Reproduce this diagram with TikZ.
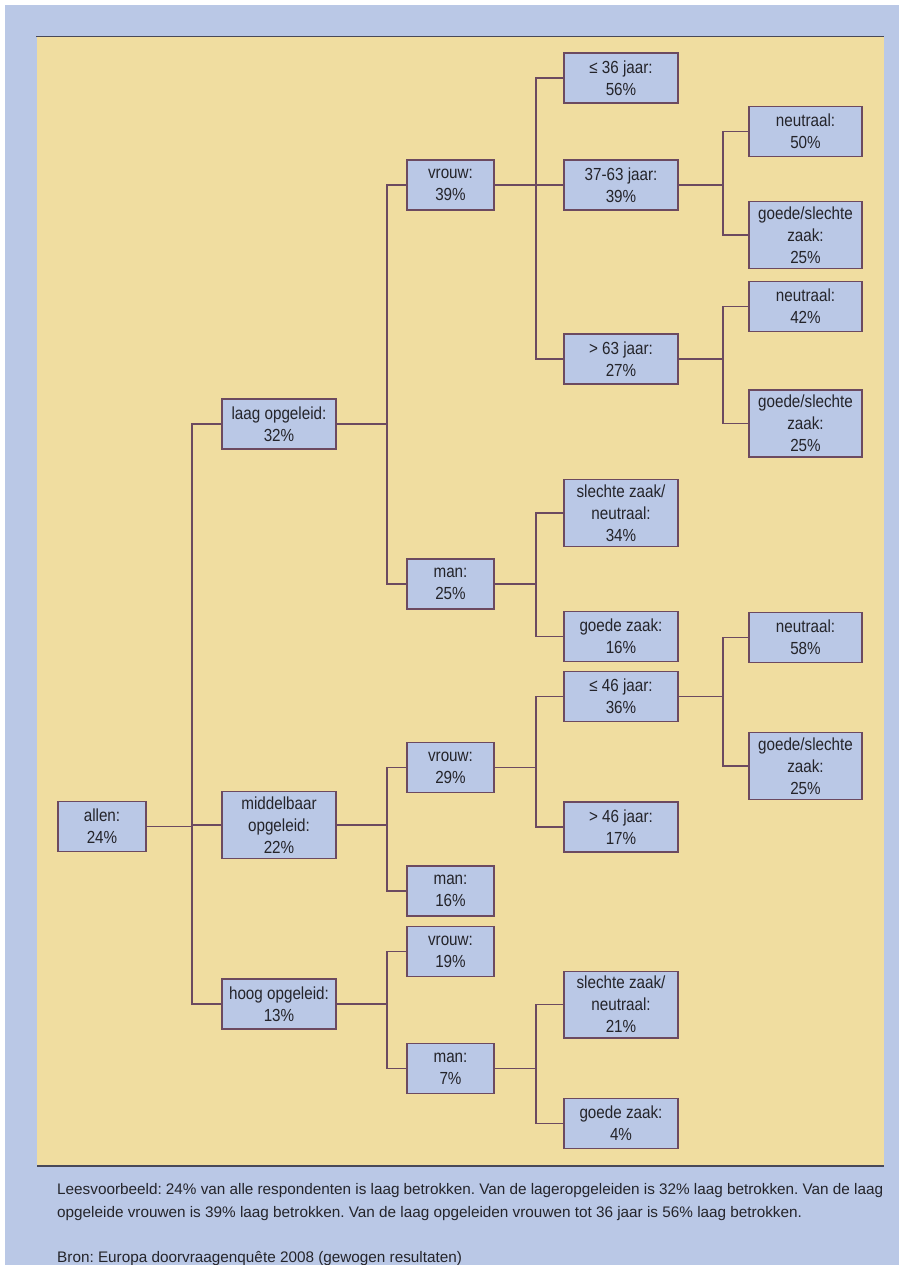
\documentclass[tikz,border=0pt]{standalone}
\usepackage{fontspec}
\setmainfont{Liberation Sans}
\newfontfamily\boxfont{Liberation Sans}[FakeStretch=0.87]
\frenchspacing

\definecolor{frameblue}{RGB}{186,200,230}
\definecolor{panelyellow}{RGB}{240,221,160}
\definecolor{boxline}{RGB}{108,74,96}
\definecolor{textgray}{RGB}{36,36,42}
\definecolor{ruledark}{RGB}{72,72,88}

\begin{document}
\begin{tikzpicture}[x=1pt,y=-1pt,
    box/.style={draw=boxline, fill=frameblue, line width=1.2pt, align=center,
      inner xsep=2pt, inner ysep=5pt, minimum height=50pt, text=textgray,
      font=\boxfont\fontsize{17.5}{22}\selectfont},
    narrowbox/.style={box, minimum width=87pt},
    widebox/.style={box, minimum width=114pt},
    conn/.style={draw=boxline, line width=1.2pt}]

    \pgfmathsetmacro{\colA}{102}
    \pgfmathsetmacro{\colB}{279}
    \pgfmathsetmacro{\colC}{450.5}
    \pgfmathsetmacro{\colD}{621}
    \pgfmathsetmacro{\colE}{805.5}

    \useasboundingbox (0,0) rectangle (899,1265);
    \fill[frameblue] (5,5) rectangle (899,1265);
    \fill[panelyellow] (37,37) rectangle (884,1166);
    \draw[ruledark, line width=1.3pt] (36,36.5) -- (884,36.5);
    \draw[ruledark, line width=1.3pt] (37,1166) -- (884,1166);

    \coordinate (tA) at (192,0);
    \coordinate (tB) at (387,0);
    \coordinate (tC) at (536,0);
    \coordinate (tD) at (723,0);

    \node[narrowbox, minimum width=88pt] (allen) at (\colA,826.5) {allen:\\24\%};

    \node[widebox] (laag) at (\colB,424) {laag opgeleid:\\32\%};
    \node[widebox] (midd) at (\colB,825) {middelbaar\\opgeleid:\\22\%};
    \node[widebox] (hoog) at (\colB,1004) {hoog opgeleid:\\13\%};

    \node[narrowbox] (vrouwL) at (\colC,185) {vrouw:\\39\%};
    \node[narrowbox] (manL) at (\colC,584) {man:\\25\%};
    \node[narrowbox] (vrouwM) at (\colC,767.5) {vrouw:\\29\%};
    \node[narrowbox] (manM) at (\colC,891) {man:\\16\%};
    \node[narrowbox] (vrouwH) at (\colC,951.5) {vrouw:\\19\%};
    \node[narrowbox] (manH) at (\colC,1068.5) {man:\\7\%};

    \node[widebox] (le36) at (\colD,78) {≤ 36 jaar:\\56\%};
    \node[widebox] (j3763) at (\colD,185) {37-63 jaar:\\39\%};
    \node[widebox] (gt63) at (\colD,359) {> 63 jaar:\\27\%};
    \node[widebox] (szn34) at (\colD,513) {slechte zaak/\\neutraal:\\34\%};
    \node[widebox] (gz16) at (\colD,636.5) {goede zaak:\\16\%};
    \node[widebox] (le46) at (\colD,696.5) {≤ 46 jaar:\\36\%};
    \node[widebox] (gt46) at (\colD,827) {> 46 jaar:\\17\%};
    \node[widebox] (szn21) at (\colD,1004.5) {slechte zaak/\\neutraal:\\21\%};
    \node[widebox] (gz4) at (\colD,1123.5) {goede zaak:\\4\%};

    \node[box, minimum width=113pt] (n50) at (\colE,131.5) {neutraal:\\50\%};
    \node[box, minimum width=113pt] (gs50) at (\colE,235) {goede/slechte\\zaak:\\25\%};
    \node[box, minimum width=113pt] (n42) at (\colE,306.5) {neutraal:\\42\%};
    \node[box, minimum width=113pt] (gs42) at (\colE,423.5) {goede/slechte\\zaak:\\25\%};
    \node[box, minimum width=113pt] (n58) at (\colE,637.5) {neutraal:\\58\%};
    \node[box, minimum width=113pt] (gs58) at (\colE,766) {goede/slechte\\zaak:\\25\%};

    \foreach \child in {laag,midd,hoog}
      \draw[conn] (allen.east) -- (allen.east -| tA) |- (\child.west);
    \foreach \child in {vrouwL,manL}
      \draw[conn] (laag.east) -- (laag.east -| tB) |- (\child.west);
    \foreach \child in {vrouwM,manM}
      \draw[conn] (midd.east) -- (midd.east -| tB) |- (\child.west);
    \foreach \child in {vrouwH,manH}
      \draw[conn] (hoog.east) -- (hoog.east -| tB) |- (\child.west);
    \foreach \child in {le36,j3763,gt63}
      \draw[conn] (vrouwL.east) -- (vrouwL.east -| tC) |- (\child.west);
    \foreach \child in {szn34,gz16}
      \draw[conn] (manL.east) -- (manL.east -| tC) |- (\child.west);
    \foreach \child in {le46,gt46}
      \draw[conn] (vrouwM.east) -- (vrouwM.east -| tC) |- (\child.west);
    \foreach \child in {szn21,gz4}
      \draw[conn] (manH.east) -- (manH.east -| tC) |- (\child.west);
    \foreach \child in {n50,gs50}
      \draw[conn] (j3763.east) -- (j3763.east -| tD) |- (\child.west);
    \foreach \child in {n42,gs42}
      \draw[conn] (gt63.east) -- (gt63.east -| tD) |- (\child.west);
    \foreach \child in {n58,gs58}
      \draw[conn] (le46.east) -- (le46.east -| tD) |- (\child.west);

    \node[anchor=north west, inner sep=0pt, text width=826pt, align=justify,
      text=textgray, font=\fontsize{15.3}{23}\selectfont] (lees) at (57,1183.5)
      {Leesvoorbeeld: 24\% van alle respondenten is laag betrokken. Van de lageropgeleiden is 32\% laag betrokken. Van de laag\linebreak opgeleide vrouwen is 39\% laag betrokken. Van de laag opgeleiden vrouwen tot 36 jaar is 56\% laag betrokken.};
    \node[anchor=base west, inner sep=0pt, text=textgray,
      font=\fontsize{15.3}{23}\selectfont] (bron) at (57,1262)
      {Bron: Europa doorvraagenquête 2008 (gewogen resultaten)};
  \end{tikzpicture}
\end{document}
